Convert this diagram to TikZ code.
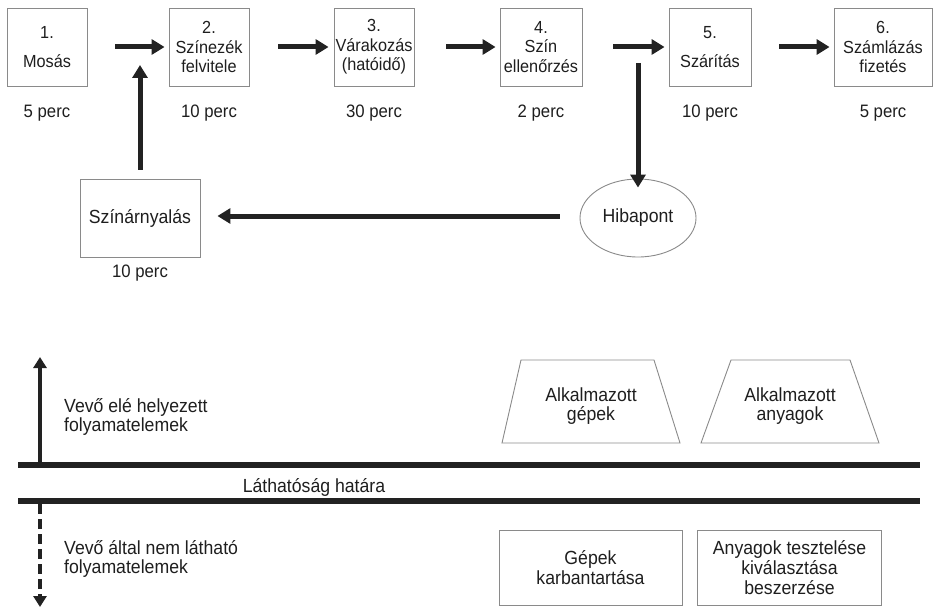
\documentclass[tikz,border=0pt]{standalone}
\usepackage{fontspec}
\setmainfont[FakeStretch=0.93]{Liberation Sans}
\usetikzlibrary{arrows.meta,shapes.geometric}
\definecolor{txt}{HTML}{1E1E1E}
\definecolor{boxc}{HTML}{8A8A8A}
\definecolor{arrc}{HTML}{222222}
\begin{document}
\begin{tikzpicture}[x=1pt,y=-1pt,
  font=\fontsize{19}{19.8}\selectfont,
  every node/.style={text=txt},
  pbox/.style={draw=boxc, line width=0.9pt, align=center, inner sep=0pt, minimum height=78pt},
  tbox/.style={pbox, font=\fontsize{17.5}{19.5}\selectfont},
  perc/.style={anchor=center, font=\fontsize{18}{20}\selectfont},
  arr/.style={draw=arrc, line width=5pt, -{Triangle[length=13pt,width=15pt]}},
  varr/.style={draw=arrc, line width=4pt, -{Triangle[length=11pt,width=13pt]}},
  bline/.style={draw=arrc, line width=6pt},
  side/.style={align=left, anchor=west, inner sep=0pt}
]
\useasboundingbox (0,0) rectangle (936,607);

% top process boxes
\node[tbox, minimum width=80pt] (b1) at (47,47) {1.\\[9pt]Mosás};
\node[tbox, minimum width=80pt] (b2) at (209,47) {2.\\Színezék\\felvitele};
\node[tbox, minimum width=80pt] (b3) at (374,47) {3.\\Várakozás\\(hatóidő)};
\node[tbox, minimum width=82pt] (b4) at (541,47) {4.\\Szín\\ellenőrzés};
\node[tbox, minimum width=82pt] (b5) at (710,47) {5.\\[9pt]Szárítás};
\node[tbox, minimum width=98pt] (b6) at (883,47) {6.\\Számlázás\\fizetés};

\node[perc] (t1) at (47,113) {5 perc};
\node[perc] (t2) at (209,113) {10 perc};
\node[perc] (t3) at (374,113) {30 perc};
\node[perc] (t4) at (541,113) {2 perc};
\node[perc] (t5) at (710,113) {10 perc};
\node[perc] (t6) at (883,113) {5 perc};

\draw[arr] ([xshift=28pt]b1.east) -- ([xshift=-4pt]b2.west);
\draw[arr] ([xshift=29pt]b2.east) -- ([xshift=-5pt]b3.west);
\draw[arr] ([xshift=32pt]b3.east) -- ([xshift=-4pt]b4.west);
\draw[arr] ([xshift=31pt]b4.east) -- ([xshift=-4pt]b5.west);
\draw[arr] ([xshift=28pt]b5.east) -- ([xshift=-4pt]b6.west);

% feedback loop
\node[draw=boxc, line width=0.9pt, ellipse, minimum width=116pt, minimum height=78pt, inner sep=0pt] (hib) at (638,218) {Hibapont};
\node[pbox, minimum width=120pt] (szin) at (140,218) {Színárnyalás};
\node[perc] (t7) at (140,273) {10 perc};
\coordinate (c1) at (638,63);
\coordinate (c2) at (140,65);
\draw[arr] (c1) -- ([yshift=-9pt]hib.north);
\draw[arr] ([shift={(-20pt,2pt)}]hib.west) -- ([shift={(17pt,2pt)}]szin.east);
\draw[arr] ([yshift=9pt]szin.north) -- (c2);

% line of visibility
\coordinate (l1a) at (18,465);
\coordinate (l1b) at (920,465);
\coordinate (l2a) at (18,501);
\coordinate (l2b) at (920,501);
\draw[bline] (l1a) -- (l1b);
\draw[bline] (l2a) -- (l2b);
\node (lh) at (314,487) {Láthatóság határa};

\coordinate (ua) at (40,462);
\coordinate (ub) at (40,357);
\draw[varr] (ua) -- (ub);
\coordinate (da) at (40,504);
\coordinate (db) at (40,607);
\draw[varr, dash pattern=on 10pt off 5pt] (da) -- (db);

\node[side] (vel) at (64,417) {Vevő elé helyezett\\folyamatelemek};
\node[side] (vnl) at (64,559) {Vevő által nem látható\\folyamatelemek};

% trapezoids
\coordinate (p1) at (502,443);
\coordinate (p2) at (680,443);
\coordinate (p3) at (654,360);
\coordinate (p4) at (521,360);
\draw[draw=boxc, line width=0.9pt] (p1) -- (p2) -- (p3) -- (p4) -- cycle;
\node[align=center, inner sep=0pt] (ag) at (591,406) {Alkalmazott\\gépek};
\coordinate (q1) at (701,443);
\coordinate (q2) at (879,443);
\coordinate (q3) at (850,360);
\coordinate (q4) at (731,360);
\draw[draw=boxc, line width=0.9pt] (q1) -- (q2) -- (q3) -- (q4) -- cycle;
\node[align=center, inner sep=0pt] (aa) at (790,406) {Alkalmazott\\anyagok};

% bottom boxes
\node[pbox, minimum width=183pt, minimum height=75pt] (gk) at (590.5,567.5) {Gépek\\karbantartása};
\node[pbox, minimum width=184pt, minimum height=75pt] (at) at (789.5,567.5) {Anyagok tesztelése\\kiválasztása\\beszerzése};
\end{tikzpicture}
\end{document}
